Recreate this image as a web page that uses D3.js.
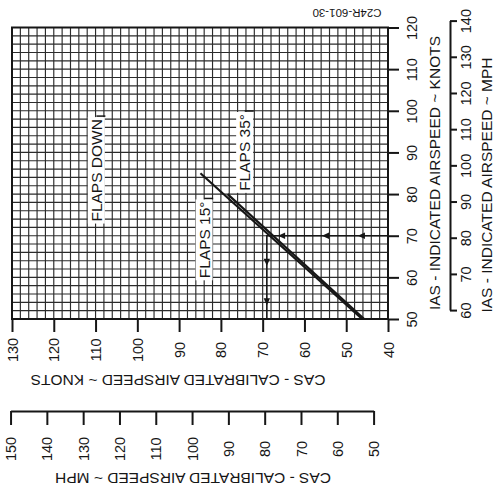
<!DOCTYPE html>
<html>
<head>
<meta charset="utf-8">
<script src="https://cdn.jsdelivr.net/npm/d3@7"></script>
<style>
  body { margin: 0; background: #fff; }
  svg { display: block; font-family: "Liberation Sans", Arial, sans-serif; }
</style>
</head>
<body>
<div id="main"></div>
<script>
// airspeed calibration, page is printed rotated: IAS runs up, CAS runs right-to-left
var casKnotTicks = [130, 120, 110, 100, 90, 80, 70, 60, 50, 40];
var iasKnotTicks = [50, 60, 70, 80, 90, 100, 110, 120];
var casMphTicks = [150, 140, 130, 120, 110, 100, 90, 80, 70, 60, 50];
var iasMphTicks = [60, 70, 80, 90, 100, 110, 120, 130, 140];

// each line: points as {ias, cas} in knots
var flaps15 = [{ias: 85, cas: 84.9}, {ias: 50, cas: 46.2}];
var flaps35 = [{ias: 80, cas: 78.4}, {ias: 50, cas: 45.7}];
var examplePath = [{ias: 70, cas: 40}, {ias: 70, cas: 69}, {ias: 50, cas: 69}];
var arrowsLeft = [47.2, 55.8, 66.3];   // CAS values along IAS 70
var arrowsDown = [62.8, 53.3];         // IAS values along CAS 69

var labels = [
    {text: "FLAPS DOWN", cas: 109.8, ias: 85.7},
    {text: "FLAPS 15°", cas: 84, ias: 69},
    {text: "FLAPS 35°", cas: 74.3, ias: 90}
];

var KT_TO_MPH = 1.15078;

var svg = d3.select("#main")
        .append("svg")
        .attr("width", 495)
        .attr("height", 488);

var x = d3.scaleLinear().domain([130, 40]).range([12, 388]);
var y = d3.scaleLinear().domain([50, 120]).range([319, 27.5]);

// mph scales share pixel positions with the knot scales
var xMph = d3.scaleLinear().domain([150, 50])
        .range([x(150 / KT_TO_MPH), x(50 / KT_TO_MPH)]);
var yMph = d3.scaleLinear().domain([60, 140])
        .range([y(60 / KT_TO_MPH), y(140 / KT_TO_MPH)]);

var ink = "#161616";

//////////////////////////////////////////////////////////////////////////////
// grid

var grid = svg.append("g").attr("stroke", "#2b2b2b").attr("stroke-width", 1.15);

grid.selectAll("line.v")
    .data(d3.range(40, 131, 2))
    .enter().append("line")
    .attr("x1", function(d) { return x(d); })
    .attr("x2", function(d) { return x(d); })
    .attr("y1", y(120))
    .attr("y2", y(50));

grid.selectAll("line.h")
    .data(d3.range(50, 121, 2))
    .enter().append("line")
    .attr("x1", x(130))
    .attr("x2", x(40))
    .attr("y1", function(d) { return y(d); })
    .attr("y2", function(d) { return y(d); });

svg.append("rect")
    .attr("x", x(130)).attr("y", y(120))
    .attr("width", x(40) - x(130)).attr("height", y(50) - y(120))
    .attr("fill", "none").attr("stroke", ink).attr("stroke-width", 2);

//////////////////////////////////////////////////////////////////////////////
// axes

function styleAxis(g) {
    g.attr("font-family", null).attr("font-size", null);
    g.selectAll("line").attr("stroke", ink).attr("stroke-width", 2);
    g.selectAll("path").attr("stroke", ink).attr("stroke-width", 2);
    g.selectAll("text")
        .attr("fill", ink)
        .style("font-size", "14.5px")
        .attr("text-anchor", "middle")
        .attr("transform", "rotate(-90)");
}

var casAxis = svg.append("g")
        .attr("transform", "translate(0," + y(50) + ")")
        .call(d3.axisBottom(x).tickValues(casKnotTicks).tickSize(13).tickSizeOuter(0));
casAxis.select(".domain").remove();
casAxis.call(styleAxis);
casAxis.selectAll("text").attr("x", -31).attr("y", 0).attr("dy", "0.35em");

var casMphAxis = svg.append("g")
        .attr("transform", "translate(0,411)")
        .call(d3.axisBottom(xMph).tickValues(casMphTicks).tickSize(14).tickSizeOuter(0));
casMphAxis.call(styleAxis);
casMphAxis.selectAll("text").attr("x", -38).attr("y", 0).attr("dy", "0.35em");

var iasAxis = svg.append("g")
        .attr("transform", "translate(" + x(40) + ",0)")
        .call(d3.axisRight(y).tickValues(iasKnotTicks).tickSize(11).tickSizeOuter(0));
iasAxis.select(".domain").remove();
iasAxis.call(styleAxis);
iasAxis.selectAll("text").attr("x", 0).attr("y", 24).attr("dy", "0.35em");

var iasMphAxis = svg.append("g")
        .attr("transform", "translate(450,0)")
        .call(d3.axisRight(yMph).tickValues(iasMphTicks).tickSize(7).tickSizeOuter(0));
iasMphAxis.call(styleAxis);
iasMphAxis.selectAll("text").attr("x", 0).attr("y", 16).attr("dy", "0.35em");

function title(text, cx, cy, angle, size) {
    svg.append("text")
        .attr("x", cx).attr("y", cy)
        .attr("dy", "0.35em")
        .attr("text-anchor", "middle")
        .attr("transform", "rotate(" + angle + "," + cx + "," + cy + ")")
        .attr("fill", ink)
        .style("font-size", size + "px")
        .text(text);
}

title("CAS - CALIBRATED AIRSPEED ~ KNOTS", 178, 380, 180, 15.5);
title("CAS - CALIBRATED AIRSPEED ~ MPH", 193, 478, 180, 15.5);
title("IAS - INDICATED AIRSPEED ~ KNOTS", 435, 173, -90, 15.5);
title("IAS - INDICATED AIRSPEED ~ MPH", 487, 185, -90, 15.5);
title("C24R-601-30", 347, 13, 180, 11.5);

//////////////////////////////////////////////////////////////////////////////
// curves and the worked example

var line = d3.line()
        .x(function(d) { return x(d.cas); })
        .y(function(d) { return y(d.ias); });

[[flaps15, 2.2], [flaps35, 2.2], [examplePath, 1.6]].forEach(function(l) {
    var [pts, w] = l;
    svg.append("path")
        .attr("d", line(pts))
        .attr("fill", "none")
        .attr("stroke", ink)
        .attr("stroke-width", w);
});

var head = "M0,0 L7,-3.2 L7,3.2 Z";   // points left

svg.selectAll("path.left")
    .data(arrowsLeft)
    .enter().append("path")
    .attr("d", head)
    .attr("fill", ink)
    .attr("transform", function(d) { return "translate(" + x(d) + "," + y(70) + ")"; });

svg.selectAll("path.down")
    .data(arrowsDown)
    .enter().append("path")
    .attr("d", head)
    .attr("fill", ink)
    .attr("transform", function(d) { return "translate(" + x(69) + "," + y(d) + ") rotate(-90)"; });

//////////////////////////////////////////////////////////////////////////////
// labels on white boxes

labels.forEach(function(d) {
    var g = svg.append("g")
            .attr("transform", "translate(" + x(d.cas) + "," + y(d.ias) + ") rotate(-90)");
    var rect = g.append("rect").attr("fill", "#fff");
    var t = g.append("text")
            .attr("text-anchor", "middle")
            .attr("dy", "0.35em")
            .attr("fill", ink)
            .style("font-size", "15.5px")
            .text(d.text);
    var bb = t.node().getBBox();
    rect.attr("x", bb.x - 2).attr("y", bb.y)
        .attr("width", bb.width + 4).attr("height", bb.height);
    // short leader at the top end of the label
    g.append("line")
        .attr("x1", bb.x + bb.width + 3).attr("x2", bb.x + bb.width + 3)
        .attr("y1", 0).attr("y2", 9)
        .attr("stroke", ink).attr("stroke-width", 1.5);
});
</script>
</body>
</html>
